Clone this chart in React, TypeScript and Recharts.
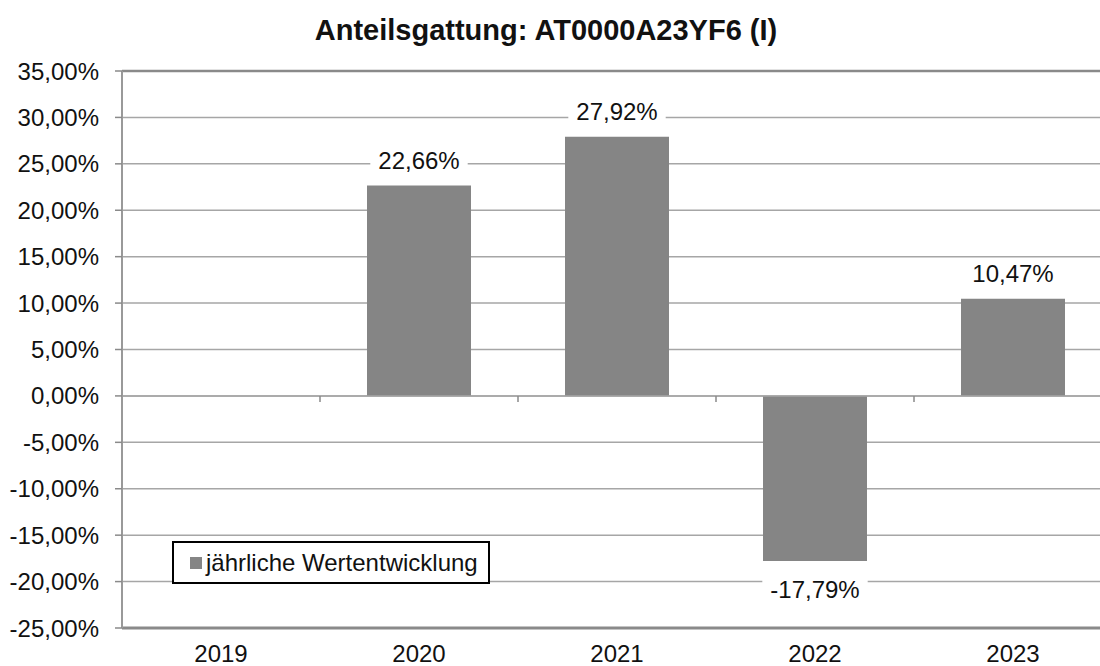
import React from 'react';
import { BarChart, Bar, XAxis, YAxis, CartesianGrid, LabelList, Legend, ReferenceLine } from 'recharts';

const years = ['2019', '2020', '2021', '2022', '2023'];
const performance: (number | null)[] = [null, 22.66, 27.92, -17.79, 10.47];
const yTicks = [-25, -20, -15, -10, -5, 0, 5, 10, 15, 20, 25, 30, 35];
const boundaries = [1, 2, 3, 4];
const title = 'Anteilsgattung: AT0000A23YF6 (I)';
const seriesName = 'jährliche Wertentwicklung';

const data = years.map((y, i) => ({ year: y, idx: i + 0.5, value: performance[i] }));

const FONT = '"Liberation Sans", Arial, sans-serif';
const fmt = (v: number) => {
  const s = (Math.abs(v) < 1e-9 ? 0 : v).toFixed(2).replace('.', ',');
  return s + '%';
};

const charW = (c: string) => {
  if (c >= '0' && c <= '9') return 0.556;
  if (c === ',') return 0.278;
  if (c === '%') return 0.889;
  if (c === '-') return 0.333;
  return 0.556;
};

const ValueLabel = (props: any) => {
  const { x, y, width, height, value } = props;
  if (value === null || value === undefined) return null;
  const top = Math.min(y, y + height);
  const bottom = Math.max(y, y + height);
  const cx = x + width / 2;
  const cy = value >= 0 ? top - 25 : bottom + 28;
  const text = fmt(value);
  const tw = text.split('').reduce((a, c) => a + charW(c), 0) * 24;
  const w = tw + 16;
  return (
    <g>
      <rect x={cx - w / 2} y={cy - 15} width={w} height={30} fill="#ffffff" />
      <text x={cx} y={cy + 8.5} textAnchor="middle" fontSize={24} fontFamily={FONT} fill="#111">
        {text}
      </text>
    </g>
  );
};

const LegendBox = () => (
  <div
    style={{
      boxSizing: 'border-box',
      width: 318,
      height: 43,
      border: '2px solid #000',
      background: '#fff',
      display: 'flex',
      alignItems: 'center',
      paddingLeft: 16,
      fontFamily: FONT,
      fontSize: 24,
      color: '#111',
      whiteSpace: 'nowrap',
    }}
  >
    <span style={{ display: 'inline-block', width: 12, height: 12, background: '#858585', marginRight: 4 }} />
    <span>{seriesName}</span>
  </div>
);

export default function App() {
  return (
    <div style={{ position: 'absolute', left: 0, top: 0, width: 1100, height: 666, overflow: 'hidden', background: '#fff' }}>
      <div
        style={{
          position: 'absolute',
          left: 0,
          top: 13,
          width: 1092,
          textAlign: 'center',
          fontFamily: FONT,
          fontWeight: 'bold',
          fontSize: 29,
          color: '#111',
          lineHeight: '34px',
        }}
      >
        {title}
      </div>
      <div style={{ position: 'absolute', left: 0, top: 0 }}>
        <BarChart
          width={1120}
          height={666}
          data={data}
          margin={{ top: 71, right: 8, left: 0, bottom: 0 }}
          barCategoryGap="24%"
        >
          <CartesianGrid horizontal vertical={false} stroke="#a6a6a6" strokeWidth={1.5} />
          <XAxis
            dataKey="year"
            height={38}
            tickLine={false}
            axisLine={{ stroke: '#8a8a8a', strokeWidth: 3 }}
            tickMargin={11}
            tick={{ fontSize: 24, fontFamily: FONT, fill: '#111' }}
            interval={0}
          />
          <XAxis xAxisId="num" type="number" dataKey="idx" domain={[0, 5]} hide />
          <YAxis
            width={122}
            domain={[-25, 35]}
            ticks={yTicks}
            interval={0}
            tickFormatter={fmt}
            tickSize={7}
            tickMargin={16}
            tickLine={{ stroke: '#8a8a8a', strokeWidth: 1.5 }}
            axisLine={{ stroke: '#999999', strokeWidth: 2 }}
            tick={{ fontSize: 24, fontFamily: FONT, fill: '#111' }}
            allowDataOverflow
          />
          <ReferenceLine y={35} stroke="#8a8a8a" strokeWidth={2.5} />
          <ReferenceLine y={0} stroke="#a6a6a6" strokeWidth={1.5} />
          {boundaries.map((b) => (
            <ReferenceLine
              key={b}
              xAxisId="num"
              segment={[{ x: b, y: 0 }, { x: b, y: -0.65 }]}
              stroke="#8a8a8a"
              strokeWidth={1.5}
            />
          ))}
          <Legend
            layout="vertical"
            align="center"
            verticalAlign="middle"
            wrapperStyle={{ position: 'absolute', left: 172, top: 541, width: 318 }}
            content={() => <LegendBox />}
          />
          <Bar dataKey="value" name={seriesName} fill="#858585" barSize={104} isAnimationActive={false}>
            <LabelList dataKey="value" content={<ValueLabel />} />
          </Bar>
        </BarChart>
      </div>
    </div>
  );
}
